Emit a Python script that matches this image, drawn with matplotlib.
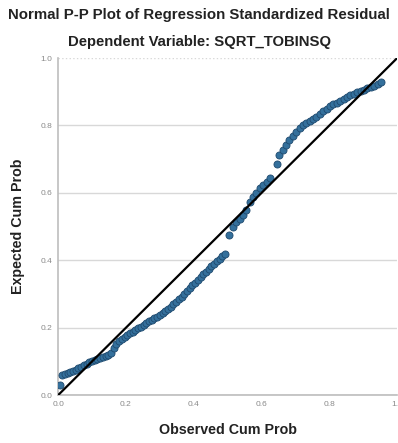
import matplotlib
matplotlib.use('Agg')
import matplotlib.pyplot as plt

plt.rcParams['font.family'] = ['Liberation Sans', 'DejaVu Sans']

observed = [0.005, 0.012, 0.02, 0.028, 0.036, 0.044, 0.052, 0.06, 0.068, 0.076,
            0.084, 0.092, 0.1, 0.108, 0.116, 0.124, 0.132, 0.14, 0.148, 0.156,
            0.164, 0.172, 0.18, 0.188, 0.196, 0.204, 0.212, 0.22, 0.228, 0.236,
            0.244, 0.252, 0.26, 0.268, 0.276, 0.284, 0.292, 0.3, 0.308, 0.316,
            0.324, 0.332, 0.34, 0.348, 0.356, 0.364, 0.372, 0.38, 0.388, 0.396,
            0.404, 0.412, 0.42, 0.428, 0.436, 0.444, 0.452, 0.46, 0.468, 0.476,
            0.484, 0.492, 0.505, 0.515, 0.525, 0.535, 0.545, 0.555, 0.565, 0.575,
            0.585, 0.595, 0.605, 0.615, 0.625, 0.645, 0.652, 0.662, 0.672, 0.682,
            0.692, 0.702, 0.712, 0.722, 0.732, 0.742, 0.752, 0.762, 0.772, 0.782,
            0.792, 0.802, 0.812, 0.822, 0.832, 0.842, 0.852, 0.862, 0.872, 0.882,
            0.892, 0.902, 0.912, 0.922, 0.932, 0.942, 0.952]
expected = [0.03, 0.06, 0.063, 0.066, 0.07, 0.073, 0.076, 0.08, 0.085, 0.088,
            0.092, 0.097, 0.1, 0.104, 0.107, 0.111, 0.113, 0.116, 0.119, 0.125,
            0.14, 0.152, 0.16, 0.166, 0.172, 0.178, 0.184, 0.188, 0.193, 0.198,
            0.203, 0.209, 0.214, 0.219, 0.223, 0.228, 0.232, 0.238, 0.243, 0.25,
            0.256, 0.262, 0.27, 0.277, 0.285, 0.292, 0.3, 0.308, 0.317, 0.326,
            0.334, 0.342, 0.35, 0.358, 0.366, 0.374, 0.382, 0.39, 0.398, 0.405,
            0.412, 0.42, 0.474, 0.5, 0.513, 0.522, 0.535, 0.55, 0.572, 0.588,
            0.6, 0.615, 0.624, 0.633, 0.645, 0.685, 0.712, 0.728, 0.742, 0.756,
            0.768, 0.78, 0.792, 0.8, 0.806, 0.812, 0.818, 0.826, 0.834, 0.842,
            0.85, 0.858, 0.864, 0.868, 0.872, 0.878, 0.884, 0.89, 0.894, 0.898,
            0.902, 0.906, 0.91, 0.914, 0.918, 0.924, 0.93]
ticks = [0.0, 0.2, 0.4, 0.6, 0.8, 1.0]
tick_labels = ['0.0', '0.2', '0.4', '0.6', '0.8', '1.0']

fig = plt.figure(figsize=(3.98, 4.43), dpi=100)
ax = fig.add_axes([0.146, 0.108, 0.852, 0.761])

ax.scatter(observed, expected, s=26, color='#34709c', edgecolors='#1f4a6e',
           linewidths=0.6, zorder=3)
ax.plot([0, 1], [0, 1], color='black', linewidth=1.6, zorder=4)

ax.set_xlim(0, 1)
ax.set_ylim(0, 1)
ax.set_xticks(ticks)
ax.set_yticks(ticks)
ax.set_xticklabels(tick_labels)
ax.set_yticklabels(tick_labels)
ax.tick_params(length=0, labelsize=6, labelcolor='#8a8a8a', pad=4)
ax.grid(axis='y', color='#d8d8d8', linewidth=1)
ax.yaxis.get_gridlines()[-1].set_linestyle(':')
ax.set_axisbelow(True)
for side in ['top', 'right']:
    ax.spines[side].set_visible(False)
for side in ['left', 'bottom']:
    ax.spines[side].set_color('#bdbdbd')
    ax.spines[side].set_linewidth(1.2)

ax.set_xlabel('Observed Cum Prob', fontsize=10.3, fontweight='bold',
              color='#222222', labelpad=11)
ax.set_ylabel('Expected Cum Prob', fontsize=10.3, fontweight='bold',
              color='#222222', labelpad=11)

fig.text(0.5, 0.966, 'Normal P-P Plot of Regression Standardized Residual',
         ha='center', va='center', fontsize=10.8, fontweight='bold', color='#222222')
fig.text(0.5, 0.905, 'Dependent Variable: SQRT_TOBINSQ',
         ha='center', va='center', fontsize=10.7, fontweight='bold', color='#222222')

plt.savefig('out.png', dpi=100)
